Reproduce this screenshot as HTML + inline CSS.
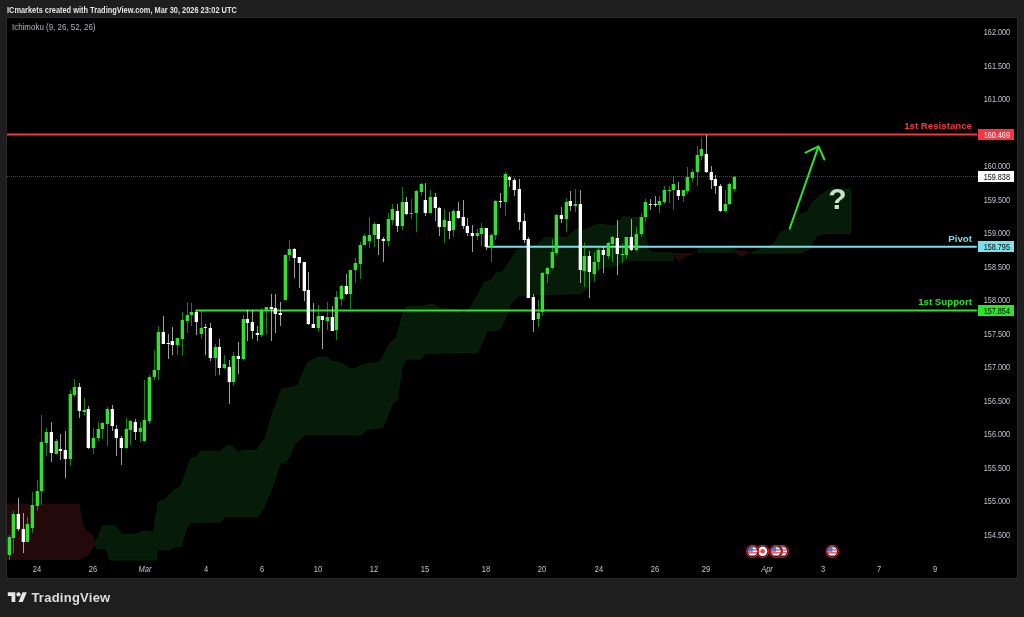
<!DOCTYPE html>
<html><head><meta charset="utf-8"><title>USDJPY chart</title>
<style>
html,body{margin:0;padding:0}
body{width:1024px;height:617px;background:#1e1e1e;overflow:hidden;position:relative;font-family:"Liberation Sans",sans-serif}
#chart{position:absolute;left:6px;top:17px;width:1010px;height:560px;background:#000;border:1px solid #2a2a2a}
svg{position:absolute;left:0;top:0}
.hdr{position:absolute;left:6.5px;top:4.6px;font-size:8.5px;font-weight:bold;color:#e4e4e4;white-space:nowrap;line-height:11px;transform:scaleX(0.87);transform-origin:0 0}
.ind{position:absolute;left:11.6px;top:22px;font-size:8.6px;color:#b4b7c0;white-space:nowrap;line-height:11px;transform:scaleX(0.925);transform-origin:0 0}
.pl{position:absolute;left:979px;width:36px;text-align:center;font-size:8.2px;line-height:12px;color:#c5c8d0;transform:scaleX(0.89)}
.tl{position:absolute;top:564.3px;width:40px;text-align:center;font-size:8.2px;line-height:12px;color:#c5c8d0;transform:scaleX(0.92)}
.it{font-style:italic}
.tag{position:absolute;left:978px;width:36px;height:11px;text-align:center;font-size:8.2px;line-height:11.5px}
.tag span{display:inline-block;transform:scaleX(0.89);position:relative;left:1px;top:1.1px}
.lbl{position:absolute;right:52px;font-size:9.7px;font-weight:bold;line-height:12px;white-space:nowrap}
.tv{position:absolute;left:31.4px;top:589.7px;font-size:13px;font-weight:bold;color:#dddddd;line-height:16px;letter-spacing:0.25px}
.q{position:absolute;left:827px;top:182px;width:21px;text-align:center;font-size:30px;font-weight:bold;color:#c5e3c8;line-height:34px}
</style></head><body>
<div id="chart"></div>
<svg width="1024" height="617" viewBox="0 0 1024 617" shape-rendering="crispEdges">
<g shape-rendering="geometricPrecision"><polygon points="95.2,543.5 102.9,525.9 115.7,525.9 121.0,534.7 135.1,534.7 143.0,531.2 148.9,531.2 153.2,533.5 158.5,502.5 165.0,500.1 173.2,490.8 181.1,486.1 190.8,459.1 195.7,457.6 200.7,451.2 220.0,451.2 228.8,445.0 232.4,446.8 238.2,452.4 244.1,450.3 257.3,450.3 262.2,442.1 265.5,438.6 271.0,418.1 281.6,389.4 297.6,386.0 302.0,375.7 307.8,362.5 318.1,357.3 326.9,357.3 331.3,361.1 340.0,362.5 350.3,369.0 356.8,367.8 365.0,364.0 379.6,362.5 389.9,343.5 397.2,336.8 402.5,315.1 406.6,306.9 423.6,306.0 432.4,303.9 439.7,308.3 457.3,309.8 463.1,314.8 470.5,307.5 485.1,282.0 491.5,280.5 496.2,273.2 502.7,271.7 510.0,261.0 516.6,250.4 535.3,245.7 544.7,237.9 568.1,237.1 575.2,229.3 583.8,230.8 597.8,224.1 615.0,226.2 622.8,216.8 640.0,217.6 646.2,239.4 648.6,250.9 655.0,253.0 672.2,253.0 673.5,257.0 673.5,257.0 673.4,260.3 623.6,260.3 617.7,265.6 604.5,266.8 597.2,270.6 591.3,280.8 586.9,288.2 581.1,293.4 518.8,295.2 510.0,304.5 507.1,315.1 499.7,329.7 486.6,330.9 477.8,352.3 425.0,353.2 420.6,359.0 406.0,359.0 401.6,368.4 397.2,400.0 392.8,402.1 382.5,427.6 367.9,428.5 361.0,434.8 304.5,434.8 293.9,445.0 288.6,457.6 285.1,462.9 280.1,462.9 273.4,484.0 263.1,508.9 257.3,516.8 224.2,516.8 220.0,522.1 191.3,522.1 186.9,526.5 181.1,546.4 175.0,546.4 170.0,549.4 157.6,549.4 156.2,560.0 110.2,560.0 106.4,548.8 97.0,548.8 95.2,543.5" fill="#061c08" stroke="#082509" stroke-width="1"/><polygon points="696.9,253.0 699.0,246.3 734.5,247.5 736.0,253.0" fill="#061c08"/><polygon points="751.7,252.5 768.9,246.6 774.3,243.4 780.7,232.2 790.4,228.3 794.7,221.9 800.0,214.4 807.6,211.8 811.9,203.6 818.3,197.2 822.6,194.0 832.3,187.5 835.5,189.0 850.5,189.0 850.5,233.3 822.6,233.7 816.2,236.3 811.9,243.4 809.7,249.2 800.0,253.0 751.7,253.0" fill="#061c08" stroke="#082509" stroke-width="1"/><polygon points="7.0,503.8 79.8,503.8 82.6,523.6 86.1,530.6 93.1,535.0 95.3,543.6 88.4,555.4 79.0,560.0 7.0,560.0" fill="#24090b"/><polygon points="672.2,253.0 677.6,261.2 686.2,256.3 696.9,253.0" fill="#24090b"/><polygon points="734.5,249.8 737.7,255.2 743.1,256.9 748.5,253.0 751.7,252.0" fill="#24090b"/></g>
<line x1="7" y1="176.5" x2="978" y2="176.5" stroke="#4a4a4a" stroke-width="1" stroke-dasharray="1 1"/>
<g shape-rendering="geometricPrecision"><rect x="195" y="309.45" width="782" height="2" rx="1" fill="#2ee22e"/>
<rect x="486" y="245.8" width="491" height="2" rx="1" fill="#7cdfea"/>
<rect x="7" y="133.5" width="970" height="2" fill="#f23645"/></g>
<path d="M9 535h1v25h-1zM13 511h1v42h-1zM27 517h1v25h-1zM32 492h1v41h-1zM37 480h1v31h-1zM41 415h1v90h-1zM46 428h1v28h-1zM56 439h1v15h-1zM70 390h1v76h-1zM74 379h1v18h-1zM84 398h1v17h-1zM93 428h1v26h-1zM98 422h1v19h-1zM102 422h1v17h-1zM107 407h1v39h-1zM126 418h1v31h-1zM130 420h1v25h-1zM140 422h1v20h-1zM144 380h1v62h-1zM149 375h1v49h-1zM154 350h1v30h-1zM158 326h1v54h-1zM177 338h1v17h-1zM182 312h1v44h-1zM187 302h1v31h-1zM191 303h1v23h-1zM201 311h1v28h-1zM215 344h1v32h-1zM224 355h1v14h-1zM233 352h1v34h-1zM243 315h1v45h-1zM261 308h1v29h-1zM266 307h1v27h-1zM285 254h1v46h-1zM289 240h1v21h-1zM318 305h1v27h-1zM327 302h1v28h-1zM336 291h1v49h-1zM341 285h1v21h-1zM350 270h1v39h-1zM355 258h1v25h-1zM360 242h1v37h-1zM364 234h1v11h-1zM369 217h1v31h-1zM374 222h1v25h-1zM388 213h1v33h-1zM392 204h1v21h-1zM402 187h1v43h-1zM411 199h1v20h-1zM416 190h1v42h-1zM421 183h1v13h-1zM430 190h1v23h-1zM444 209h1v34h-1zM453 209h1v28h-1zM477 229h1v11h-1zM481 223h1v23h-1zM491 233h1v29h-1zM495 200h1v40h-1zM505 172h1v44h-1zM538 300h1v27h-1zM542 272h1v44h-1zM547 267h1v16h-1zM552 239h1v30h-1zM556 214h1v41h-1zM566 198h1v34h-1zM575 189h1v23h-1zM584 243h1v44h-1zM594 252h1v30h-1zM598 247h1v23h-1zM608 242h1v17h-1zM612 236h1v26h-1zM622 244h1v19h-1zM626 237h1v22h-1zM636 227h1v24h-1zM641 213h1v24h-1zM645 199h1v23h-1zM659 196h1v17h-1zM664 186h1v18h-1zM669 186h1v17h-1zM673 176h1v34h-1zM683 190h1v12h-1zM687 167h1v27h-1zM692 169h1v13h-1zM697 146h1v40h-1zM701 138h1v22h-1zM725 190h1v22h-1zM729 183h1v22h-1zM734 176h1v15h-1z" fill="#2ee22e" opacity="0.56"/><path d="M18 498h1v33h-1zM23 513h1v40h-1zM51 422h1v40h-1zM60 434h1v26h-1zM65 431h1v47h-1zM79 383h1v35h-1zM88 406h1v43h-1zM112 405h1v26h-1zM116 425h1v31h-1zM121 436h1v29h-1zM135 419h1v21h-1zM163 316h1v28h-1zM168 334h1v25h-1zM172 327h1v28h-1zM196 311h1v24h-1zM205 324h1v31h-1zM210 323h1v38h-1zM219 339h1v36h-1zM229 360h1v44h-1zM238 342h1v32h-1zM247 310h1v31h-1zM252 310h1v29h-1zM257 326h1v15h-1zM271 294h1v47h-1zM275 294h1v39h-1zM280 302h1v24h-1zM294 248h1v30h-1zM299 257h1v31h-1zM304 262h1v39h-1zM308 272h1v53h-1zM313 303h1v25h-1zM322 316h1v33h-1zM332 306h1v25h-1zM346 274h1v21h-1zM378 224h1v31h-1zM383 237h1v25h-1zM397 204h1v28h-1zM406 197h1v18h-1zM425 183h1v33h-1zM435 193h1v28h-1zM439 207h1v29h-1zM449 212h1v27h-1zM458 202h1v17h-1zM463 200h1v29h-1zM467 218h1v18h-1zM472 225h1v27h-1zM486 228h1v22h-1zM500 193h1v15h-1zM509 176h1v11h-1zM514 178h1v18h-1zM519 179h1v51h-1zM524 213h1v30h-1zM528 237h1v61h-1zM533 294h1v38h-1zM561 207h1v16h-1zM570 191h1v20h-1zM580 190h1v93h-1zM589 251h1v47h-1zM603 247h1v26h-1zM617 220h1v55h-1zM631 219h1v32h-1zM650 199h1v11h-1zM655 196h1v11h-1zM678 182h1v18h-1zM706 135h1v38h-1zM711 166h1v23h-1zM715 175h1v19h-1zM720 184h1v28h-1z" fill="#ffffff" opacity="0.62"/><path d="M7 537h1v18h-1zM11 514h1v24h-1zM25 524h1v18h-1zM30 505h1v23h-1zM35 491h1v15h-1zM39 442h1v49h-1zM44 432h1v11h-1zM54 441h1v13h-1zM68 394h1v65h-1zM72 387h1v8h-1zM82 410h1v2h-1zM91 438h1v10h-1zM96 429h1v9h-1zM100 423h1v6h-1zM105 409h1v15h-1zM124 429h1v19h-1zM128 421h1v9h-1zM138 428h1v4h-1zM142 420h1v21h-1zM147 377h1v44h-1zM152 370h1v7h-1zM156 332h1v38h-1zM175 338h1v7h-1zM180 320h1v19h-1zM185 315h1v6h-1zM189 312h1v3h-1zM199 328h1v6h-1zM213 347h1v11h-1zM222 364h1v4h-1zM231 356h1v26h-1zM241 319h1v40h-1zM259 310h1v25h-1zM264 307h1v3h-1zM283 255h1v45h-1zM287 249h1v6h-1zM316 316h1v12h-1zM325 317h1v4h-1zM334 297h1v33h-1zM339 286h1v13h-1zM348 270h1v24h-1zM353 263h1v7h-1zM358 245h1v19h-1zM362 236h1v9h-1zM367 235h1v6h-1zM372 224h1v11h-1zM386 219h1v22h-1zM390 209h1v11h-1zM400 202h1v24h-1zM409 213h1v1h-1zM414 191h1v22h-1zM419 184h1v8h-1zM428 197h1v16h-1zM442 220h1v7h-1zM451 211h1v19h-1zM475 233h1v3h-1zM479 228h1v6h-1zM489 235h1v12h-1zM493 201h1v34h-1zM503 174h1v28h-1zM536 313h1v6h-1zM540 273h1v39h-1zM545 268h1v6h-1zM550 252h1v16h-1zM554 215h1v38h-1zM564 202h1v17h-1zM573 204h1v2h-1zM582 256h1v15h-1zM592 262h1v12h-1zM596 250h1v12h-1zM606 243h1v13h-1zM610 237h1v7h-1zM620 254h1v1h-1zM624 237h1v18h-1zM634 234h1v16h-1zM639 217h1v17h-1zM643 202h1v15h-1zM657 201h1v4h-1zM662 190h1v12h-1zM667 190h1v1h-1zM671 184h1v6h-1zM681 190h1v6h-1zM685 177h1v14h-1zM690 172h1v6h-1zM695 155h1v17h-1zM699 149h1v7h-1zM723 204h1v7h-1zM727 184h1v20h-1zM732 177h1v12h-1z" fill="#2ee22e" opacity="0.33"/><path d="M16 514h1v15h-1zM21 529h1v13h-1zM49 432h1v21h-1zM58 449h1v2h-1zM63 450h1v9h-1zM77 387h1v24h-1zM86 409h1v39h-1zM110 409h1v17h-1zM114 429h1v9h-1zM119 438h1v10h-1zM133 422h1v10h-1zM161 332h1v12h-1zM166 343h1v1h-1zM170 341h1v4h-1zM194 312h1v10h-1zM203 327h1v1h-1zM208 328h1v30h-1zM217 347h1v21h-1zM227 367h1v15h-1zM236 356h1v3h-1zM245 319h1v4h-1zM250 322h1v9h-1zM255 333h1v2h-1zM269 307h1v2h-1zM273 308h1v6h-1zM278 313h1v2h-1zM292 249h1v9h-1zM297 257h1v6h-1zM302 262h1v29h-1zM306 290h1v34h-1zM311 324h1v4h-1zM320 316h1v4h-1zM330 317h1v14h-1zM344 286h1v8h-1zM376 224h1v15h-1zM381 239h1v2h-1zM395 211h1v15h-1zM404 202h1v12h-1zM423 200h1v13h-1zM433 197h1v11h-1zM437 208h1v19h-1zM447 221h1v10h-1zM456 211h1v7h-1zM461 217h1v9h-1zM465 226h1v7h-1zM470 233h1v3h-1zM484 228h1v19h-1zM498 201h1v1h-1zM507 177h1v3h-1zM512 180h1v10h-1zM517 189h1v33h-1zM522 221h1v19h-1zM526 239h1v59h-1zM531 297h1v23h-1zM559 215h1v4h-1zM568 201h1v5h-1zM578 204h1v66h-1zM587 256h1v16h-1zM601 250h1v5h-1zM615 238h1v16h-1zM629 237h1v13h-1zM648 204h1v1h-1zM653 204h1v1h-1zM676 190h1v6h-1zM704 154h1v18h-1zM709 172h1v8h-1zM713 179h1v7h-1zM718 186h1v25h-1z" fill="#ffffff" opacity="0.33"/><path d="M8 537h3v18h-3zM12 514h3v24h-3zM26 524h3v18h-3zM31 505h3v23h-3zM36 491h3v15h-3zM40 442h3v49h-3zM45 432h3v11h-3zM55 441h3v13h-3zM69 394h3v65h-3zM73 387h3v8h-3zM83 410h3v2h-3zM92 438h3v10h-3zM97 429h3v9h-3zM101 423h3v6h-3zM106 409h3v15h-3zM125 429h3v19h-3zM129 421h3v9h-3zM139 428h3v4h-3zM143 420h3v21h-3zM148 377h3v44h-3zM153 370h3v7h-3zM157 332h3v38h-3zM176 338h3v7h-3zM181 320h3v19h-3zM186 315h3v6h-3zM190 312h3v3h-3zM200 328h3v6h-3zM214 347h3v11h-3zM223 364h3v4h-3zM232 356h3v26h-3zM242 319h3v40h-3zM260 310h3v25h-3zM265 307h3v3h-3zM284 255h3v45h-3zM288 249h3v6h-3zM317 316h3v12h-3zM326 317h3v4h-3zM335 297h3v33h-3zM340 286h3v13h-3zM349 270h3v24h-3zM354 263h3v7h-3zM359 245h3v19h-3zM363 236h3v9h-3zM368 235h3v6h-3zM373 224h3v11h-3zM387 219h3v22h-3zM391 209h3v11h-3zM401 202h3v24h-3zM410 213h3v1h-3zM415 191h3v22h-3zM420 184h3v8h-3zM429 197h3v16h-3zM443 220h3v7h-3zM452 211h3v19h-3zM476 233h3v3h-3zM480 228h3v6h-3zM490 235h3v12h-3zM494 201h3v34h-3zM504 174h3v28h-3zM537 313h3v6h-3zM541 273h3v39h-3zM546 268h3v6h-3zM551 252h3v16h-3zM555 215h3v38h-3zM565 202h3v17h-3zM574 204h3v2h-3zM583 256h3v15h-3zM593 262h3v12h-3zM597 250h3v12h-3zM607 243h3v13h-3zM611 237h3v7h-3zM621 254h3v1h-3zM625 237h3v18h-3zM635 234h3v16h-3zM640 217h3v17h-3zM644 202h3v15h-3zM658 201h3v4h-3zM663 190h3v12h-3zM668 190h3v1h-3zM672 184h3v6h-3zM682 190h3v6h-3zM686 177h3v14h-3zM691 172h3v6h-3zM696 155h3v17h-3zM700 149h3v7h-3zM724 204h3v7h-3zM728 184h3v20h-3zM733 177h3v12h-3z" fill="#2ee22e"/><path d="M17 514h3v15h-3zM22 529h3v13h-3zM50 432h3v21h-3zM59 449h3v2h-3zM64 450h3v9h-3zM78 387h3v24h-3zM87 409h3v39h-3zM111 409h3v17h-3zM115 429h3v9h-3zM120 438h3v10h-3zM134 422h3v10h-3zM162 332h3v12h-3zM167 343h3v1h-3zM171 341h3v4h-3zM195 312h3v10h-3zM204 327h3v1h-3zM209 328h3v30h-3zM218 347h3v21h-3zM228 367h3v15h-3zM237 356h3v3h-3zM246 319h3v4h-3zM251 322h3v9h-3zM256 333h3v2h-3zM270 307h3v2h-3zM274 308h3v6h-3zM279 313h3v2h-3zM293 249h3v9h-3zM298 257h3v6h-3zM303 262h3v29h-3zM307 290h3v34h-3zM312 324h3v4h-3zM321 316h3v4h-3zM331 317h3v14h-3zM345 286h3v8h-3zM377 224h3v15h-3zM382 239h3v2h-3zM396 211h3v15h-3zM405 202h3v12h-3zM424 200h3v13h-3zM434 197h3v11h-3zM438 208h3v19h-3zM448 221h3v10h-3zM457 211h3v7h-3zM462 217h3v9h-3zM466 226h3v7h-3zM471 233h3v3h-3zM485 228h3v19h-3zM499 201h3v1h-3zM508 177h3v3h-3zM513 180h3v10h-3zM518 189h3v33h-3zM523 221h3v19h-3zM527 239h3v59h-3zM532 297h3v23h-3zM560 215h3v4h-3zM569 201h3v5h-3zM579 204h3v66h-3zM588 256h3v16h-3zM602 250h3v5h-3zM616 238h3v16h-3zM630 237h3v13h-3zM649 204h3v1h-3zM654 204h3v1h-3zM677 190h3v6h-3zM705 154h3v18h-3zM710 172h3v8h-3zM714 179h3v7h-3zM719 186h3v25h-3z" fill="#ffffff"/>
<g shape-rendering="geometricPrecision">
<path d="M789.7 228.5L818.5 146.4M805.5 152.7L818.5 146.4L824.4 159.5" fill="none" stroke="#2ee22e" stroke-width="2" stroke-linecap="round" stroke-linejoin="round"/>
<g transform="translate(832.3,551.3)"><circle r="6.5" fill="#000"/><clipPath id="c8323"><circle r="4.8"/></clipPath><g clip-path="url(#c8323)"><rect x="-6" y="-6" width="12" height="12" fill="#fff"/><rect x="-6" y="-5.20" width="12" height="1.5" fill="#f0505a"/><rect x="-6" y="-2.20" width="12" height="1.5" fill="#f0505a"/><rect x="-6" y="0.80" width="12" height="1.5" fill="#f0505a"/><rect x="-6" y="3.80" width="12" height="1.5" fill="#f0505a"/><rect x="-6" y="-6" width="6.2" height="6.4" fill="#4a78d6"/></g><circle r="6.05" fill="none" stroke="#d8202e" stroke-width="1.1"/></g><g transform="translate(782.3,551.3)"><circle r="6.5" fill="#000"/><clipPath id="c7823"><circle r="4.8"/></clipPath><g clip-path="url(#c7823)"><rect x="-6" y="-6" width="12" height="12" fill="#fff"/><rect x="-6" y="-5.20" width="12" height="1.5" fill="#f0505a"/><rect x="-6" y="-2.20" width="12" height="1.5" fill="#f0505a"/><rect x="-6" y="0.80" width="12" height="1.5" fill="#f0505a"/><rect x="-6" y="3.80" width="12" height="1.5" fill="#f0505a"/><rect x="-6" y="-6" width="6.2" height="6.4" fill="#4a78d6"/></g><circle r="6.05" fill="none" stroke="#d8202e" stroke-width="1.1"/></g><g transform="translate(776,551.3)"><circle r="6.5" fill="#000"/><clipPath id="c7760"><circle r="4.8"/></clipPath><g clip-path="url(#c7760)"><rect x="-6" y="-6" width="12" height="12" fill="#fff"/><rect x="-6" y="-5.20" width="12" height="1.5" fill="#f0505a"/><rect x="-6" y="-2.20" width="12" height="1.5" fill="#f0505a"/><rect x="-6" y="0.80" width="12" height="1.5" fill="#f0505a"/><rect x="-6" y="3.80" width="12" height="1.5" fill="#f0505a"/><rect x="-6" y="-6" width="6.2" height="6.4" fill="#4a78d6"/></g><circle r="6.05" fill="none" stroke="#d8202e" stroke-width="1.1"/></g><g transform="translate(762.6,551.3)"><circle r="6.5" fill="#000"/><circle r="4.8" fill="#fff"/><circle r="2.3" fill="#f23c50"/><circle r="6.05" fill="none" stroke="#d8202e" stroke-width="1.1"/></g><g transform="translate(752.6,551.3)"><circle r="6.5" fill="#000"/><clipPath id="c7526"><circle r="4.8"/></clipPath><g clip-path="url(#c7526)"><rect x="-6" y="-6" width="12" height="12" fill="#fff"/><rect x="-6" y="-5.20" width="12" height="1.5" fill="#f0505a"/><rect x="-6" y="-2.20" width="12" height="1.5" fill="#f0505a"/><rect x="-6" y="0.80" width="12" height="1.5" fill="#f0505a"/><rect x="-6" y="3.80" width="12" height="1.5" fill="#f0505a"/><rect x="-6" y="-6" width="6.2" height="6.4" fill="#4a78d6"/></g><circle r="6.05" fill="none" stroke="#d8202e" stroke-width="1.1"/></g>
<g transform="translate(7.8,590.2) scale(0.535)" fill="#e6e6e6"><path d="M14 22H7V11H0V4h14v18zM28 22h-8l7.5-18h8L28 22z"/><circle cx="20" cy="8" r="4"/></g>
</g>
</svg>
<div class="hdr">ICmarkets created with TradingView.com, Mar 30, 2026 23:02 UTC</div>
<div class="ind">Ichimoku (9, 26, 52, 26)</div>
<div class="pl" style="top:27.1px">162.000</div><div class="pl" style="top:60.6px">161.500</div><div class="pl" style="top:94.1px">161.000</div><div class="pl" style="top:127.6px">160.500</div><div class="pl" style="top:161.1px">160.000</div><div class="pl" style="top:194.6px">159.500</div><div class="pl" style="top:228.1px">159.000</div><div class="pl" style="top:261.6px">158.500</div><div class="pl" style="top:295.1px">158.000</div><div class="pl" style="top:328.6px">157.500</div><div class="pl" style="top:362.1px">157.000</div><div class="pl" style="top:395.6px">156.500</div><div class="pl" style="top:429.1px">156.000</div><div class="pl" style="top:462.6px">155.500</div><div class="pl" style="top:496.1px">155.000</div><div class="pl" style="top:529.6px">154.500</div>
<div class="tl" style="left:16.9px">24</div><div class="tl" style="left:73.0px">26</div><div class="tl it" style="left:124.9px">Mar</div><div class="tl" style="left:185.6px">4</div><div class="tl" style="left:241.5px">6</div><div class="tl" style="left:298.0px">10</div><div class="tl" style="left:353.6px">12</div><div class="tl" style="left:405.4px">15</div><div class="tl" style="left:466.2px">18</div><div class="tl" style="left:522.3px">20</div><div class="tl" style="left:578.5px">24</div><div class="tl" style="left:634.6px">26</div><div class="tl" style="left:685.9px">29</div><div class="tl it" style="left:747.0px">Apr</div><div class="tl" style="left:802.9px">3</div><div class="tl" style="left:858.7px">7</div><div class="tl" style="left:915.1px">9</div>
<div class="tag" style="top:129px;background:#f23645;color:#fff"><span>160.469</span></div>
<div class="tag" style="top:171px;background:#fff;color:#000"><span>159.838</span></div>
<div class="tag" style="top:241px;background:#7cdfea;color:#000"><span>158.795</span></div>
<div class="tag" style="top:305px;background:#2ee22e;color:#000"><span>157.854</span></div>
<div class="lbl" style="top:120.4px;color:#f23645">1st Resistance</div>
<div class="lbl" style="top:233.4px;color:#7cdfea">Pivot</div>
<div class="lbl" style="top:296.4px;color:#2ee22e">1st Support</div>
<div class="q">?</div>
<div class="tv">TradingView</div>
</body></html>
